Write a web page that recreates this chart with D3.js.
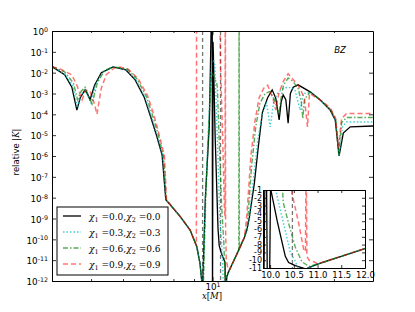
<!DOCTYPE html>
<html>
<head>
<meta charset="utf-8">
<script src="https://cdnjs.cloudflare.com/ajax/libs/d3/7.8.5/d3.min.js"></script>
<style>
body { margin: 0; background: #fff; }
svg { display: block; }
text { font-family: "DejaVu Sans", sans-serif; fill: #000; }
</style>
</head>
<body>
<div class="d3Graph"></div>
<script>
// curves: [x in M, relative |K|]
var chi00 = [[4.0,1.95e-2],[4.3,7.9e-3],[4.48,2.0e-3],[4.61,1.6e-4],[4.7,6.3e-4],[4.83,1.5e-3],[4.92,7.9e-4],[4.97,5.0e-4],[5.1,2.5e-3],[5.3,1.0e-2],[5.67,1.9e-2],[6.1,1.35e-2],[6.43,4.5e-3],[6.78,6.3e-4],[7.02,7.9e-5],[7.26,1.0e-5],[7.5,1.1e-6],[7.66,8e-9],
  [8.31,1.26e-9],[8.8,2.8e-10],[9.14,4.5e-11],[9.31,7e-12],[9.4,1.1e-12],[9.43,1e-13],
  [9.6,1e-8],[9.82,3.2e-5],[9.93,3],[9.96,10],[9.985,3],[10.0,1e-14],[10.03,0.3],[10.05,8e-2],[10.15,1e-5],[10.32,3.2e-10],[10.39,5e-11],[10.53,2e-11],[10.74,8e-12],[10.77,1e-13],[10.85,1.6e-12],
  [11.0,3.2e-12],[11.5,2e-11],[12.0,1.26e-10],[12.17,2.8e-10],[12.33,1e-9],[12.7,5e-8],[13.0,3.2e-6],[13.3,1.26e-4],[13.7,6.3e-4],[14.06,1.5e-3],[14.35,6e-4],[14.63,5.4e-5],[14.8,4e-4],[14.97,8.5e-4],[15.2,5e-4],[15.4,3.8e-5],[15.6,1e-3],[15.85,2e-3],[16.3,2.6e-3],[17.46,1.2e-3],[18.5,4.9e-4],[19.58,1.6e-4],[20.15,5.4e-5],[20.6,1e-6],[21.1,1.26e-5],[21.96,2.5e-5],[25,2.75e-5]];
var chi03 = [[4.0,1.95e-2],[4.3,8.5e-3],[4.5,2.5e-3],[4.63,2e-4],[4.72,8e-4],[4.83,1.7e-3],[4.93,6.5e-4],[5.0,3.5e-4],[5.13,2.8e-3],[5.35,1.1e-2],[5.67,1.9e-2],[6.12,1.35e-2],[6.46,4.5e-3],[6.81,6.3e-4],[7.05,7.9e-5],[7.29,1e-5],[7.52,1.1e-6],[7.67,8e-9],
  [8.31,1.26e-9],[8.8,2.8e-10],[9.14,4.5e-11],[9.31,7e-12],[9.4,1.1e-12],[9.45,1e-13],
  [9.6,1e-8],[9.8,1e-4],[9.95,3.2e-2],[10.05,4e-2],[10.14,2.3e-2],[10.28,6.3e-6],[10.43,7.9e-10],[10.52,1e-10],[10.6,6e-12],[10.66,1e-13],[10.8,1e-12],
  [11.0,3.2e-12],[11.5,2e-11],[12.0,1.26e-10],[12.2,3.2e-10],[12.35,1.3e-9],[12.65,1e-7],[12.95,6.3e-6],[13.3,1e-4],[13.6,4e-4],[13.9,2.5e-5],[14.2,5e-4],[14.6,1.2e-3],[15.0,1.8e-3],[15.4,2e-3],[16.0,1.6e-3],[16.5,1.6e-4],[16.8,1e-3],[17.46,1.1e-3],[18.5,4.7e-4],[19.6,1.6e-4],[20.2,5e-5],[20.6,1e-6],[21.0,2.5e-5],[21.5,4.3e-5],[25,4.3e-5]];
var chi06 = [[4.0,1.95e-2],[4.3,1.1e-2],[4.52,3.2e-3],[4.63,5e-4],[4.72,1.26e-3],[4.83,2e-3],[4.95,6.3e-4],[5.03,3.2e-4],[5.18,3.2e-3],[5.4,1.26e-2],[5.67,1.9e-2],[6.15,1.5e-2],[6.5,5e-3],[6.86,7e-4],[7.1,8.9e-5],[7.34,1e-5],[7.56,1e-6],[7.68,8e-9],
  [8.31,1.26e-9],[8.8,2.8e-10],[9.14,4.5e-11],[9.31,7e-12],[9.4,1.1e-12],[9.47,1e-13],
  [9.62,1e-8],[9.82,1e-4],[9.95,1e-2],[10.1,6.3e-3],[10.25,3e-3],[10.28,2e-3],[10.4,3.2e-6],[10.53,5e-9],[10.67,6.3e-11],[10.75,1e-12],[10.82,2e-12],
  [11.0,3.2e-12],[11.5,2e-11],[11.62,3e-11],[11.635,10],[11.645,10],[11.66,3.5e-11],[12.0,1.26e-10],[12.2,5e-10],[12.5,3.2e-7],[12.8,2.5e-5],[13.1,3.2e-4],[13.5,1e-3],[13.9,1.26e-3],[14.3,4e-4],[14.6,1e-4],[14.8,6.3e-4],[15.0,2.5e-3],[15.4,5.5e-3],[15.8,4e-3],[16.3,1.8e-3],[16.6,4e-4],[16.75,6.3e-5],[16.9,5e-4],[17.46,1.2e-3],[18.5,5e-4],[19.6,1.8e-4],[20.2,6.3e-5],[20.55,1.26e-6],[20.9,4e-5],[21.5,7e-5],[25,7e-5]];
var chi09 = [[4.0,1.95e-2],[4.19,1.5e-2],[4.48,7.9e-3],[4.61,2.5e-3],[4.75,5e-4],[4.85,1.5e-3],[4.97,1.3e-3],[5.1,3e-4],[5.17,1e-4],[5.3,1.8e-3],[5.45,7.9e-3],[5.7,1.65e-2],[5.9,1.85e-2],[6.2,1.4e-2],[6.55,5e-3],[6.9,7.9e-4],[7.15,1e-4],[7.38,1e-5],[7.6,1e-6],[7.69,8e-9],
  [8.31,1.26e-9],[8.8,2.8e-10],[9.05,7e-11],[9.12,5e-11],[9.13,10],[10.43,10],[10.46,4e-2],[10.6,6.3e-6],[10.71,2e-9],[10.745,1.26e-9],[10.755,10],[10.765,10],[10.775,3.2e-10],[10.82,1e-11],[10.92,4e-12],
  [11.0,3.2e-12],[11.5,2e-11],[12.0,1.26e-10],[12.15,1e-9],[12.45,1e-6],[12.75,5e-5],[13.05,6.3e-4],[13.4,1.8e-3],[13.7,2.5e-3],[14.1,6.3e-4],[14.35,1.6e-4],[14.6,1e-3],[15.0,4e-3],[15.4,8.9e-3],[15.8,5e-3],[16.3,2.5e-3],[16.9,6.3e-4],[17.2,2.5e-5],[17.4,1e-3],[18.5,5e-4],[19.6,2e-4],[20.2,6.3e-5],[20.5,2.5e-6],[20.9,6.3e-5],[21.5,1.1e-4],[25,1.1e-4]];
var greyLines = [9.45, 10.47];

// inset, y in log10 units
var insetChi00 = [[9.87,-12],[9.89,0],[9.925,0],[9.94,-12],[9.99,-12],[10.01,0],[10.02,-1.1],[10.15,-5],[10.32,-9.5],[10.39,-10.3],[10.53,-10.7],[10.74,-11.1],[10.78,-11.05],[11.0,-10.5],[11.5,-9.5],[12.0,-8.5]];
var insetChi03 = [[10.1,0],[10.14,-1.6],[10.28,-5.2],[10.43,-9.1],[10.52,-10.0],[10.6,-11.2],[10.7,-11.3],[10.78,-11.05],[11.0,-10.5],[11.5,-9.5],[12.0,-8.5]];
var insetChi06 = [[10.25,0],[10.28,-2.7],[10.4,-5.5],[10.53,-8.3],[10.67,-10.2],[10.82,-10.8],[11.0,-10.5],[11.5,-9.5],[12.0,-8.5]];
var insetChi09 = [[10.43,0],[10.46,-1.4],[10.6,-5.2],[10.71,-8.7],[10.745,-8.9],[10.755,0],[10.765,0],[10.775,-9.5],[10.82,-10.0],[10.92,-10.2],[11.0,-10.45],[11.5,-9.5],[12.0,-8.5]];

var legendChi = ["0.0", "0.3", "0.6", "0.9"];
var yTickExps = ["0","-1","-2","-3","-4","-5","-6","-7","-8","-9","-10","-11","-12"];
var xMajorTicks = [10];
var xMinorTicks = [5, 6, 7, 8, 9, 20];
var insetXTicks = [10.0, 10.5, 11.0, 11.5, 12.0];
var insetYTicks = [-11, -10, -9, -8, -7, -6, -5, -4, -3, -2, -1];

var styles = [
  {color: "#000000", dash: null, width: 1.3, opacity: 1},
  {color: "#00bfbf", dash: "1.5,2", width: 1.4, opacity: 0.75},
  {color: "#008000", dash: "5,2,1.5,2", width: 1.4, opacity: 0.65},
  {color: "#ff0000", dash: "5,3", width: 1.5, opacity: 0.55}
];

var width = 415, height = 312;
var L = 52, R = 373, T = 31, B = 281;

var svg = d3.select(".d3Graph").append("svg")
    .attr("width", width)
    .attr("height", height);

var x = d3.scaleLog().domain([4, 25]).range([L, R]);
var y = d3.scaleLog().domain([1e-12, 1]).range([B, T]);

var defs = svg.append("defs");
defs.append("clipPath").attr("id", "clipMain").append("rect")
    .attr("x", L).attr("y", T).attr("width", R - L).attr("height", B - T);

function styleLine(sel, s) {
    sel.attr("fill", "none")
        .attr("stroke", s.color)
        .attr("stroke-width", s.width)
        .attr("stroke-opacity", s.opacity)
        .attr("stroke-dasharray", s.dash);
}

var plot = svg.append("g").attr("clip-path", "url(#clipMain)");

plot.selectAll(".grey")
    .data(greyLines)
    .enter().append("line")
    .attr("x1", function(d) { return x(d); })
    .attr("x2", function(d) { return x(d); })
    .attr("y1", T).attr("y2", B)
    .attr("stroke", "#777")
    .attr("stroke-width", 1.3)
    .attr("stroke-dasharray", "4,3");

var line = d3.line()
    .x(function(d) { return x(d[0]); })
    .y(function(d) { return y(d[1]); });

[chi00, chi03, chi06, chi09].forEach(function(data, i) {
    plot.append("path").attr("d", line(data)).call(styleLine, styles[i]);
});

// axes, ticks pointing inward
svg.append("g")
    .attr("transform", "translate(0," + B + ")")
    .call(d3.axisBottom(x).tickValues(xMajorTicks).tickSizeInner(-4).tickSizeOuter(0).tickPadding(3).tickFormat(""))
    .call(function(g) {
        g.selectAll(".tick text").each(function() {
            var t = d3.select(this).style("font-size", "8.8px");
            t.append("tspan").text("10");
            t.append("tspan").attr("dy", "-0.45em").style("font-size", "6.3px").text("1");
        });
    });
svg.append("g")
    .attr("transform", "translate(0," + B + ")")
    .call(d3.axisBottom(x).tickValues(xMinorTicks).tickSizeInner(-2).tickSizeOuter(0).tickFormat(""))
    .call(function(g) { g.select(".domain").remove(); });
svg.append("g")
    .attr("transform", "translate(0," + T + ")")
    .call(d3.axisTop(x).tickValues(xMajorTicks).tickSizeInner(-4).tickSizeOuter(0).tickFormat(""));
svg.append("g")
    .attr("transform", "translate(0," + T + ")")
    .call(d3.axisTop(x).tickValues(xMinorTicks).tickSizeInner(-2).tickSizeOuter(0).tickFormat(""))
    .call(function(g) { g.select(".domain").remove(); });

var yTickVals = yTickExps.map(function(e) { return Math.pow(10, +e); });
svg.append("g")
    .attr("transform", "translate(" + L + ",0)")
    .call(d3.axisLeft(y).tickValues(yTickVals).tickSizeInner(-4).tickSizeOuter(0).tickPadding(4).tickFormat(""))
    .call(function(g) {
        g.selectAll(".tick text").each(function(d, i) {
            var t = d3.select(this).style("font-size", "8.8px").attr("dy", "0.42em");
            t.append("tspan").text("10");
            t.append("tspan").attr("dy", "-0.5em").style("font-size", "6.3px").text(yTickExps[i]);
        });
    });
svg.append("g")
    .attr("transform", "translate(" + R + ",0)")
    .call(d3.axisRight(y).tickValues(yTickVals).tickSizeInner(-4).tickSizeOuter(0).tickFormat(""));

svg.selectAll(".domain").attr("stroke-width", 1);

svg.append("text")
    .attr("x", 212).attr("y", 299)
    .attr("text-anchor", "middle")
    .style("font-family", "DejaVu Serif, serif")
    .style("font-size", "8.5px")
    .call(function(t) {
        t.append("tspan").style("font-style", "italic").text("x");
        t.append("tspan").text("[");
        t.append("tspan").style("font-style", "italic").text("M");
        t.append("tspan").text("]");
    });

svg.append("text")
    .attr("transform", "translate(19,152) rotate(-90)")
    .attr("text-anchor", "middle")
    .style("font-size", "8.5px")
    .call(function(t) {
        t.append("tspan").text("relative ");
        t.append("tspan").style("font-family", "DejaVu Serif, serif").style("font-style", "italic").text("|K|");
    });

svg.append("text")
    .attr("x", 340).attr("y", 53)
    .attr("text-anchor", "middle")
    .style("font-size", "8.5px")
    .style("font-style", "italic")
    .text("BZ");

// legend
var leg = svg.append("g");
leg.append("rect")
    .attr("x", 57).attr("y", 207).attr("width", 111).attr("height", 68)
    .attr("fill", "#fff").attr("stroke", "#000").attr("stroke-width", 1);
legendChi.forEach(function(c, i) {
    var yy = 216 + i * 16;
    leg.append("line")
        .attr("x1", 63).attr("x2", 81).attr("y1", yy).attr("y2", yy)
        .call(styleLine, styles[i]);
    var t = leg.append("text")
        .attr("x", 89).attr("y", yy + 3.5)
        .style("font-family", "DejaVu Serif, serif")
        .style("font-size", "9px");
    t.append("tspan").style("font-style", "italic").text("\u03c7");
    t.append("tspan").attr("dy", 2.5).style("font-size", "6.5px").text("1");
    t.append("tspan").attr("dy", -2.5).text(" =" + c + ",");
    t.append("tspan").style("font-style", "italic").text("\u03c7");
    t.append("tspan").attr("dy", 2.5).style("font-size", "6.5px").text("2");
    t.append("tspan").attr("dy", -2.5).text(" =" + c);
});

// inset
var iL = 263, iR = 365, iT = 190, iB = 268;
var xi = d3.scaleLinear().domain([9.85, 12.0]).range([iL, iR]);
var yi = d3.scaleLinear().domain([-11, -1]).range([iB, iT]);

defs.append("clipPath").attr("id", "clipInset").append("rect")
    .attr("x", iL).attr("y", iT).attr("width", iR - iL).attr("height", iB - iT);

svg.append("rect")
    .attr("x", iL).attr("y", iT).attr("width", iR - iL).attr("height", iB - iT)
    .attr("fill", "#fff");

var inset = svg.append("g").attr("clip-path", "url(#clipInset)");
inset.selectAll(".grey")
    .data(greyLines)
    .enter().append("line")
    .attr("x1", function(d) { return xi(d); })
    .attr("x2", function(d) { return xi(d); })
    .attr("y1", iT).attr("y2", iB)
    .attr("stroke", "#777")
    .attr("stroke-width", 1.3)
    .attr("stroke-dasharray", "4,3");

var iline = d3.line()
    .x(function(d) { return xi(d[0]); })
    .y(function(d) { return yi(d[1]); });

[insetChi00, insetChi03, insetChi06, insetChi09].forEach(function(data, i) {
    inset.append("path").attr("d", iline(data)).call(styleLine, styles[i]);
});

svg.append("g")
    .attr("transform", "translate(0," + iB + ")")
    .call(d3.axisBottom(xi).tickValues(insetXTicks).tickSizeInner(-3).tickSizeOuter(0).tickPadding(4).tickFormat(d3.format(".1f")))
    .call(function(g) { g.selectAll("text").style("font-size", "8.5px"); });
svg.append("g")
    .attr("transform", "translate(0," + iT + ")")
    .call(d3.axisTop(xi).tickValues(insetXTicks).tickSizeInner(-3).tickSizeOuter(0).tickFormat(""));
svg.append("g")
    .attr("transform", "translate(" + iL + ",0)")
    .call(d3.axisLeft(yi).tickValues(insetYTicks).tickSizeInner(-3).tickSizeOuter(0).tickPadding(1).tickFormat(function(d) { return String(d); }))
    .call(function(g) { g.selectAll("text").style("font-size", "8px"); });
svg.append("g")
    .attr("transform", "translate(" + iR + ",0)")
    .call(d3.axisRight(yi).tickValues(insetYTicks).tickSizeInner(-3).tickSizeOuter(0).tickFormat(""));

svg.selectAll(".domain").attr("stroke-width", 1);
svg.selectAll(".tick line").attr("stroke-width", 0.8);
</script>
</body>
</html>
